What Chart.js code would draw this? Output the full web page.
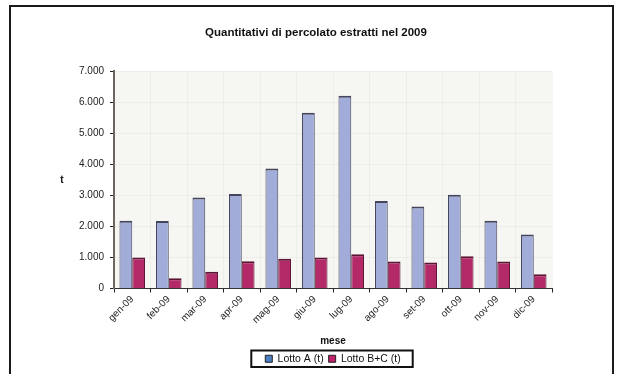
<!DOCTYPE html>
<html>
<head>
<meta charset="utf-8">
<script src="https://cdn.jsdelivr.net/npm/chart.js@4"></script>
<style>
  html, body { margin: 0; padding: 0; background: #fff; }
  body { width: 617px; height: 374px; overflow: hidden; position: relative; }
  #frame {
    position: absolute; left: 9px; top: 5px; width: 601px; height: 400px;
    border: 2px solid #1a1a1a; border-bottom: none;
  }
  #wrap { position: absolute; left: 0; top: 0; width: 617px; height: 374px; }
</style>
</head>
<body>
<div id="frame"></div>
<div id="wrap"><canvas id="c"></canvas></div>
<script>
// ─── DATA ────────────────────────────────────────────
const months = ['gen-09', 'feb-09', 'mar-09', 'apr-09', 'mag-09', 'giu-09',
                'lug-09', 'ago-09', 'set-09', 'ott-09', 'nov-09', 'dic-09'];
const lottoA  = [2180, 2170, 2930, 3040, 3860, 5660, 6200, 2820, 2640, 3020, 2180, 1740];
const lottoBC = [1000, 330, 540, 880, 960, 1000, 1100, 870, 840, 1040, 870, 460];
const seriesNames = ['Lotto A (t)', 'Lotto B+C (t)'];
const yTicks = [0, 1000, 2000, 3000, 4000, 5000, 6000, 7000];
const chartTitle = 'Quantitativi di percolato estratti nel 2009';

const FONT = "'Liberation Sans', Arial, sans-serif";
const fmt = v => String(v).replace(/\B(?=(\d{3})+(?!\d))/g, '.');

// ─── PLUGINS ─────────────────────────────────────────
const decor = {
  id: 'decor',
  beforeDraw(chart) {
    const { ctx, chartArea: a } = chart;
    ctx.save();
    ctx.fillStyle = '#f6f6f3';
    ctx.fillRect(a.left, a.top, a.right - a.left, a.bottom - a.top);
    ctx.restore();
  },
  afterDraw(chart) {
    const { ctx, chartArea: a, legend } = chart;
    ctx.save();
    ctx.fillStyle = '#111';
    ctx.textAlign = 'center';
    ctx.textBaseline = 'middle';
    // title, centred on the frame rather than the plot
    ctx.font = `bold 11.5px ${FONT}`;
    ctx.fillText(chartTitle, 316, 33);
    // y axis label, upright like the original
    ctx.font = `bold 10px ${FONT}`;
    ctx.fillText('t', 62, (a.top + a.bottom) / 2);
    // box around legend
    if (legend && legend.legendHitBoxes.length) {
      const hb = legend.legendHitBoxes;
      const l = Math.min(...hb.map(h => h.left)) - 14;
      const r = Math.max(...hb.map(h => h.left + h.width)) + 12;
      const t = Math.min(...hb.map(h => h.top)) - 3;
      const b = Math.max(...hb.map(h => h.top + h.height)) + 3;
      ctx.strokeStyle = '#111';
      ctx.lineWidth = 2;
      ctx.strokeRect(l, t, r - l, b - t);
    }
    ctx.restore();
  }
};

// ─── CHART ───────────────────────────────────────────
new Chart(document.getElementById('c'), {
  type: 'bar',
  data: {
    labels: months,
    datasets: [
      {
        label: seriesNames[0],
        data: lottoA,
        backgroundColor: '#a2acd8',
        borderColor: '#45455c',
        borderWidth: { top: 2, right: 1, left: 1, bottom: 0 },
        borderSkipped: false
      },
      {
        label: seriesNames[1],
        data: lottoBC,
        backgroundColor: '#b42a68',
        borderColor: '#5c1634',
        borderWidth: { top: 2, right: 1, left: 1, bottom: 0 },
        borderSkipped: false
      }
    ]
  },
  options: {
    responsive: true,
    maintainAspectRatio: false,
    animation: false,
    layout: { padding: { left: 50, right: 65, top: 71, bottom: 0 } },
    datasets: { bar: { categoryPercentage: 0.7, barPercentage: 1 } },
    plugins: {
      title: { display: false },
      legend: {
        position: 'bottom',
        fullSize: false,
        labels: {
          color: '#111',
          font: { family: FONT, size: 10.5 },
          boxWidth: 7,
          boxHeight: 7,
          padding: 5,
          generateLabels(chart) {
            const fills = ['#4a7fc4', '#c0206c'];
            return chart.data.datasets.map((ds, i) => ({
              text: ds.label,
              fillStyle: fills[i],
              strokeStyle: '#222',
              lineWidth: 1,
              datasetIndex: i,
              fontColor: '#111'
            }));
          }
        }
      },
      tooltip: { enabled: false }
    },
    scales: {
      x: {
        grid: { offset: true, color: 'rgba(0,0,0,0.03)', tickColor: '#222', tickLength: 4 },
        border: { color: '#333', width: 1 },
        ticks: {
          color: '#222',
          font: { family: FONT, size: 10 },
          maxRotation: 45,
          minRotation: 45,
          padding: 1
        },
        title: {
          display: true,
          text: 'mese',
          color: '#111',
          font: { family: FONT, size: 10, weight: 'bold' },
          padding: { top: 2, bottom: 1 }
        },
        afterFit(scale) { scale.height = 60; }
      },
      y: {
        min: 0,
        max: 7000,
        afterBuildTicks(scale) { scale.ticks = yTicks.map(v => ({ value: v })); },
        grid: { color: 'rgba(0,0,0,0.035)', tickColor: '#222', tickLength: 4 },
        border: { color: '#6d665e', width: 2 },
        ticks: {
          color: '#222',
          font: { family: FONT, size: 10 },
          padding: 6,
          callback: v => fmt(v)
        },
        afterFit(scale) { scale.width = 64; }
      }
    }
  },
  plugins: [decor]
});
</script>
</body>
</html>
